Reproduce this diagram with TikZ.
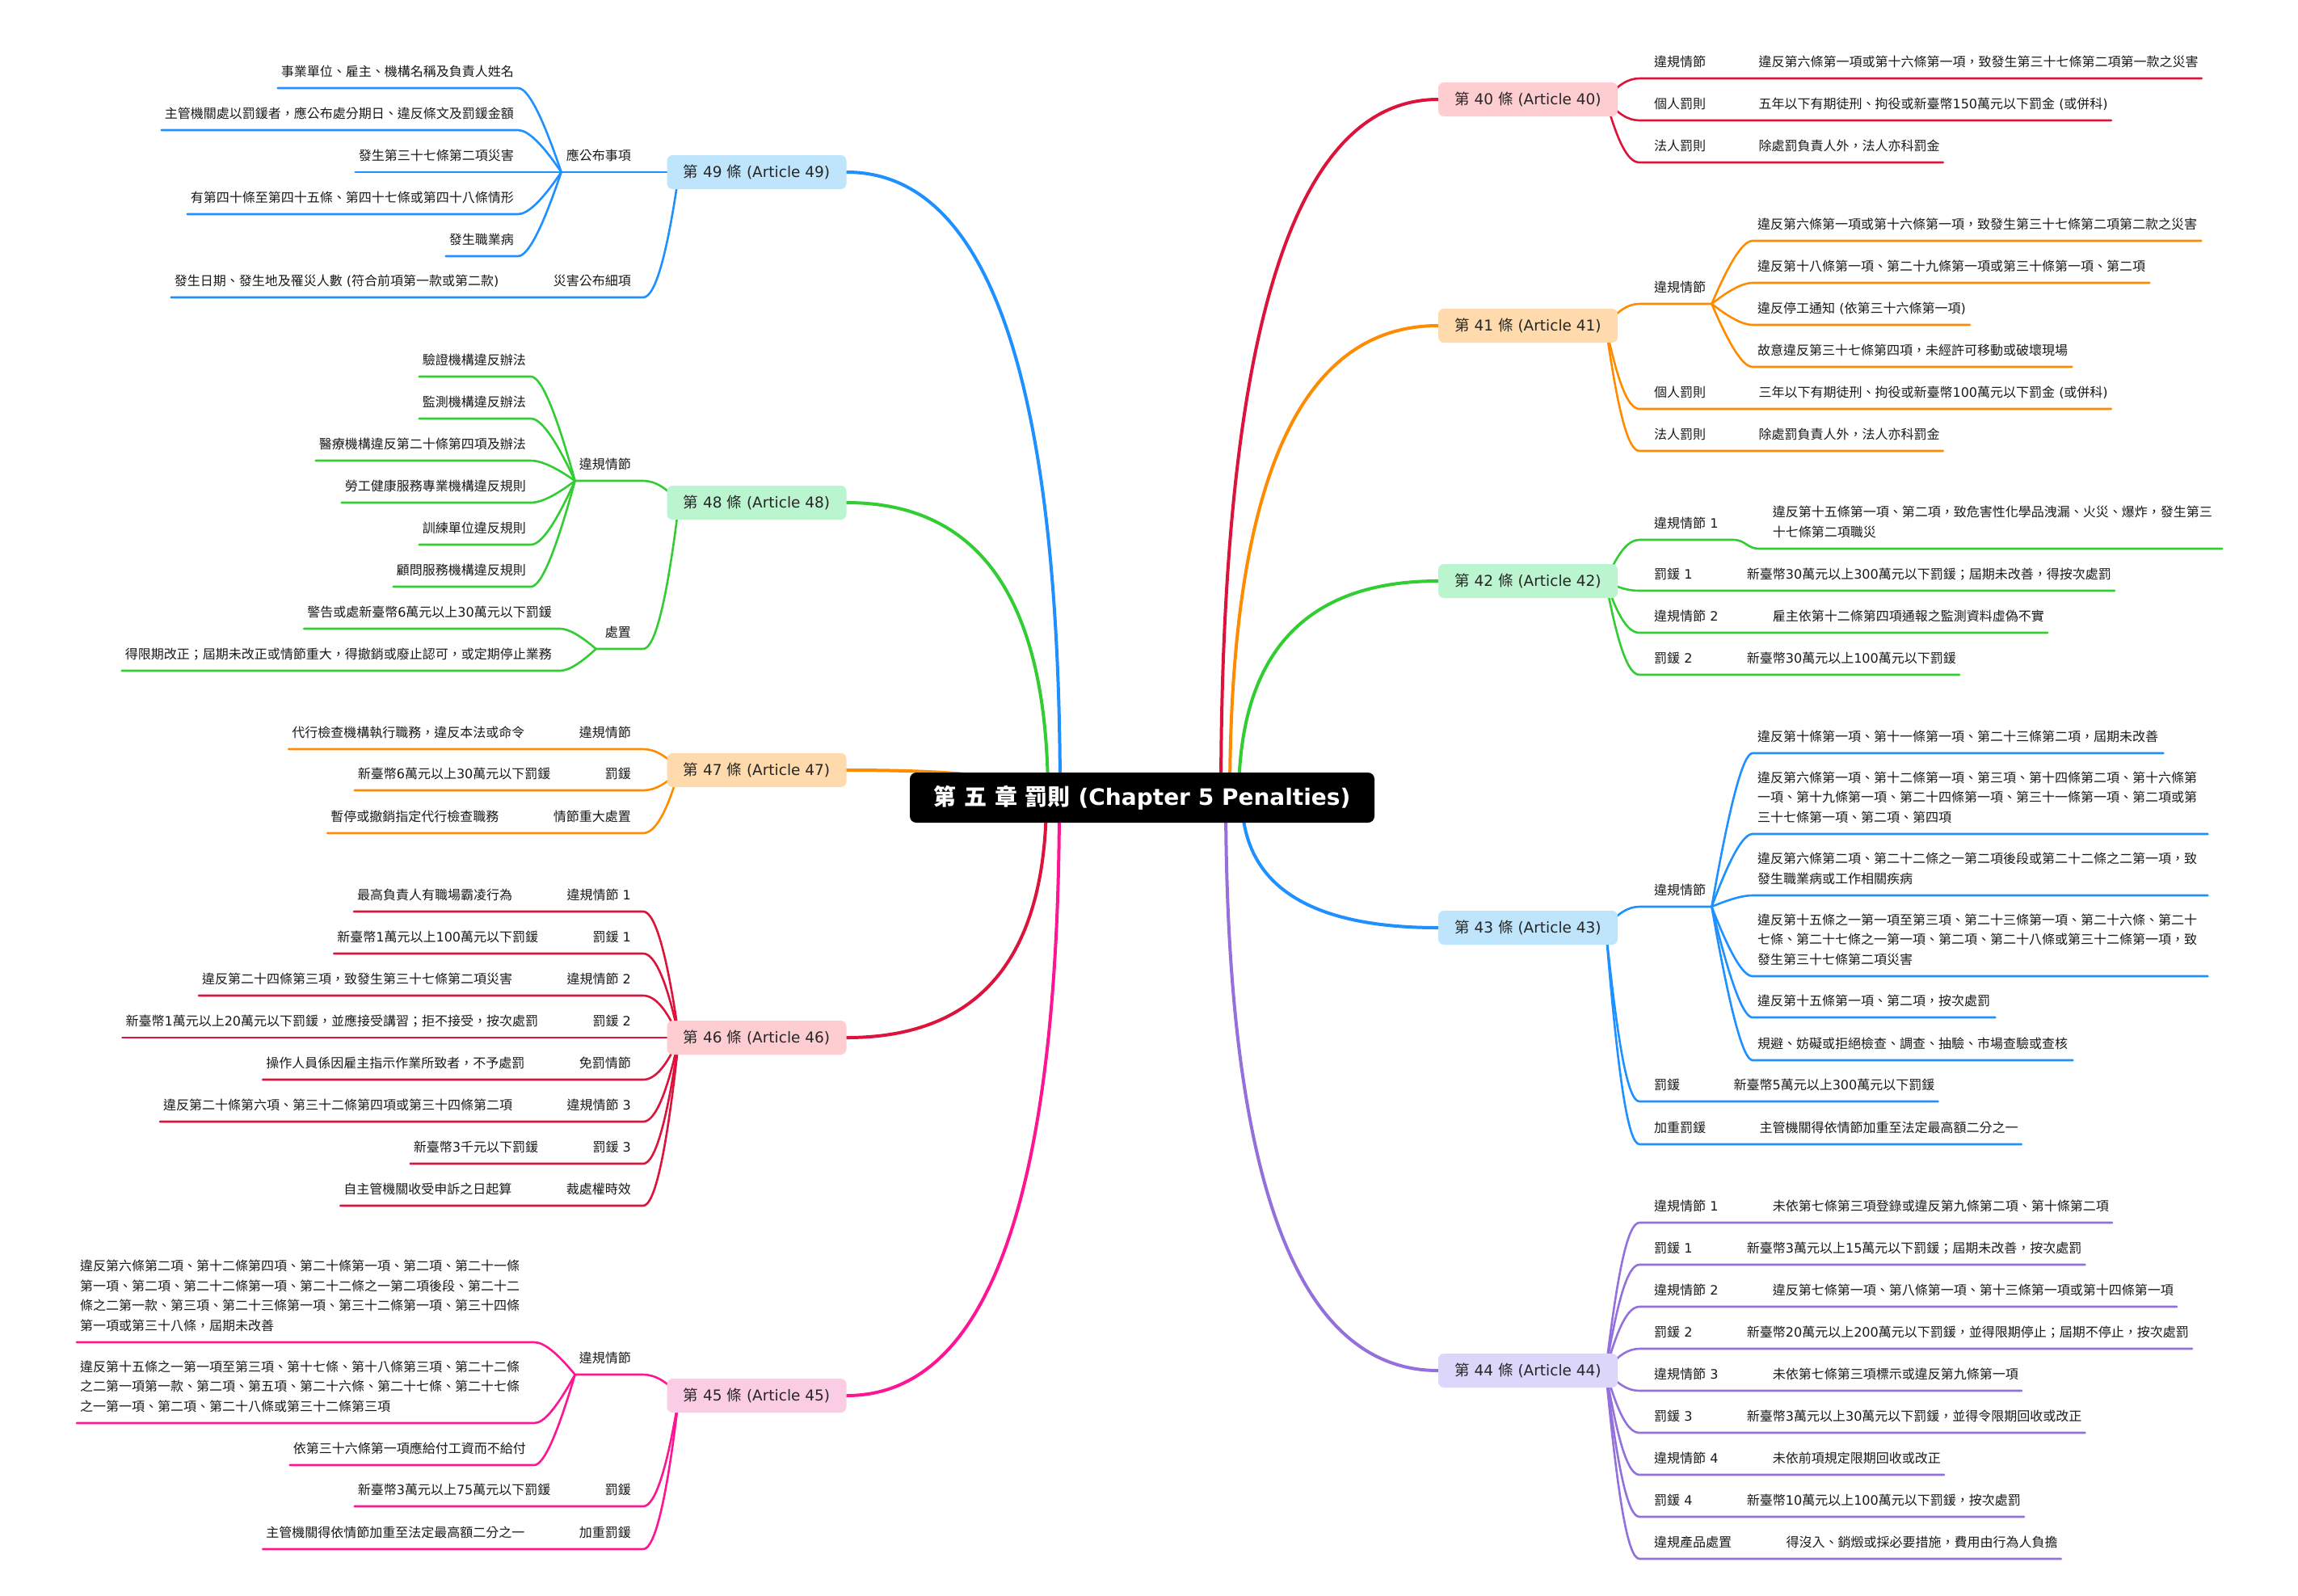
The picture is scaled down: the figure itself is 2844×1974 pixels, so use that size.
\documentclass[tikz,border=0pt]{standalone}
\usepackage{fontspec}
\setmainfont{DejaVu Sans}
\newfontfamily\cjkfont{Noto Sans CJK TC}
\usetikzlibrary{calc}
% automatic switch to the CJK font for CJK characters
\XeTeXinterchartokenstate=1
\chardef\cjkcls=10
\newcount\cjkn
\cjkn="2E80
\loop \XeTeXcharclass\cjkn=\cjkcls \ifnum\cjkn<"9FFF \advance\cjkn by 1 \repeat
\cjkn="FF00
\loop \XeTeXcharclass\cjkn=\cjkcls \ifnum\cjkn<"FFEF \advance\cjkn by 1 \repeat
\XeTeXinterchartoks 0 \cjkcls = {\cjkfont}
\XeTeXinterchartoks 4095 \cjkcls = {\cjkfont}
\XeTeXinterchartoks \cjkcls 0 = {\rmfamily}
\XeTeXinterchartoks \cjkcls 4095 = {\rmfamily}

\definecolor{cBlue}{RGB}{30,144,255}
\definecolor{cGreen}{RGB}{50,205,50}
\definecolor{cOrange}{RGB}{255,140,0}
\definecolor{cCrimson}{RGB}{220,20,60}
\definecolor{cPink}{RGB}{255,20,147}
\definecolor{cPurple}{RGB}{147,112,219}
\definecolor{fBlue}{RGB}{190,229,251}
\definecolor{fGreen}{RGB}{186,245,207}
\definecolor{fOrange}{RGB}{254,218,172}
\definecolor{fCrimson}{RGB}{254,205,209}
\definecolor{fPink}{RGB}{251,205,229}
\definecolor{fPurple}{RGB}{221,214,251}

\pgfdeclarelayer{bg}
\pgfsetlayers{bg,main}

\tikzset{
  ln/.style={line width=2.6pt, line join=round, line cap=round},
  mainln/.style={line width=4pt, line cap=round},
  rootbox/.style={fill=black, text=white, rounded corners=8pt, minimum width=575pt,
    minimum height=62pt, inner sep=0pt, font=\bfseries\fontsize{28}{32}\selectfont},
  lvlbox/.style={rounded corners=7pt, minimum width=222pt, minimum height=42pt,
    inner sep=0pt, text=black!85, font=\fontsize{18.5}{22}\selectfont},
  txt/.style={inner sep=0pt, text=black!90, font=\fontsize{16}{19}\selectfont},
  tl/.style={txt, anchor=base east},
  tr/.style={txt, anchor=base west}
}

\newcommand\blk[1]{\vbox{\baselineskip=24.5pt\lineskiplimit=-30pt\lineskip=0pt #1}}
\newcommand\mainC[5]{\draw[#1] ($(root.center)+(#2,0)$) .. controls +(0,{2/3*(#4)}) and +({2/3*(#5)},0) .. (#3);}
\newcommand\lvlL[5]{\draw[#1] ($(#2.west)+(15,0)$) .. controls +(-14.67,{2/3*(#4)}) and +(14.67,0) .. ($(#3.base east)+(15,15)$) #5;}
\newcommand\lvlR[5]{\draw[#1] ($(#2.east)+(-15,0)$) .. controls +(14.67,{2/3*(#4)}) and +(-14.67,0) .. ($(#3.base west)+(-18,15)$) #5;}
\newcommand\forkL[6]{\draw[#1] (#2) .. controls +({-0.4333*(#4)},{2/3*(#3)}) and +({0.2333*(#4)},0) .. ($(#5.base east)+(#6,15)$) -- ($(#5.base west)+(-4,15)$);}
\newcommand\forkR[6]{\draw[#1] (#2) .. controls +({0.4333*(#4)},{2/3*(#3)}) and +({-0.2333*(#4)},0) .. ($(#5.base west)+(-6,15)$) -- ($(#5.base east)+(#6,15)$);}

\begin{document}
\begin{tikzpicture}[x=1pt,y=-1pt]
\useasboundingbox (0,0) rectangle (2844,1974);

% ---------- root and main topics
\node[rootbox] (root) at (1413.5,987) {第 五 章 罰則 (Chapter 5 Penalties)};
\node[lvlbox, fill=fBlue]    (n49) at (936.5,213)  {第 49 條 (Article 49)};
\node[lvlbox, fill=fGreen]   (n48) at (936.5,622)  {第 48 條 (Article 48)};
\node[lvlbox, fill=fOrange]  (n47) at (936.5,953)  {第 47 條 (Article 47)};
\node[lvlbox, fill=fCrimson] (n46) at (936.5,1284) {第 46 條 (Article 46)};
\node[lvlbox, fill=fPink]    (n45) at (936.5,1727) {第 45 條 (Article 45)};
\node[lvlbox, fill=fCrimson] (n40) at (1891,123)  {第 40 條 (Article 40)};
\node[lvlbox, fill=fOrange]  (n41) at (1891,403)  {第 41 條 (Article 41)};
\node[lvlbox, fill=fGreen]   (n42) at (1891,719)  {第 42 條 (Article 42)};
\node[lvlbox, fill=fBlue]    (n43) at (1891,1148) {第 43 條 (Article 43)};
\node[lvlbox, fill=fPurple]  (n44) at (1891,1696) {第 44 條 (Article 44)};

% ---------- Article 49
\node[tl] (L49a) at (781,198) {應公布事項};
\node[tl] (L49b) at (781,353) {災害公布細項};
\coordinate (F49) at ($(L49a.base west)+(-6,15)$);
\node[tl] (C49a) at (636,94)  {事業單位、雇主、機構名稱及負責人姓名};
\node[tl] (C49b) at (636,146) {主管機關處以罰鍰者，應公布處分期日、違反條文及罰鍰金額};
\node[tl] (C49c) at (636,198) {發生第三十七條第二項災害};
\node[tl] (C49d) at (636,250) {有第四十條至第四十五條、第四十七條或第四十八條情形};
\node[tl] (C49e) at (636,302) {發生職業病};
\node[tl] (C49f) at ($(L49b.base west)+(-67,0)$) {發生日期、發生地及罹災人數 (符合前項第一款或第二款)};

% ---------- Article 48
\node[tl] (L48a) at (781,580) {違規情節};
\node[tl] (L48b) at (781,788) {處置};
\coordinate (F48a) at ($(L48a.base west)+(-5,15)$);
\coordinate (F48b) at ($(L48b.base west)+(-11,15)$);
\node[tl] (C48a) at (651,451) {驗證機構違反辦法};
\node[tl] (C48b) at (651,503) {監測機構違反辦法};
\node[tl] (C48c) at (651,555) {醫療機構違反第二十條第四項及辦法};
\node[tl] (C48d) at (651,607) {勞工健康服務專業機構違反規則};
\node[tl] (C48e) at (651,659) {訓練單位違反規則};
\node[tl] (C48f) at (651,711) {顧問服務機構違反規則};
\node[tl] (C48g) at (683,763) {警告或處新臺幣6萬元以上30萬元以下罰鍰};
\node[tl] (C48h) at (683,815) {得限期改正；屆期未改正或情節重大，得撤銷或廢止認可，或定期停止業務};

% ---------- Article 47
\node[tl] (L47a) at (781,912)  {違規情節};
\node[tl] (L47b) at (781,963)  {罰鍰};
\node[tl] (L47c) at (781,1016) {情節重大處置};
\node[tl] (C47a) at ($(L47a.base west)+(-67,0)$) {代行檢查機構執行職務，違反本法或命令};
\node[tl] (C47b) at ($(L47b.base west)+(-67,0)$) {新臺幣6萬元以上30萬元以下罰鍰};
\node[tl] (C47c) at ($(L47c.base west)+(-67,0)$) {暫停或撤銷指定代行檢查職務};

% ---------- Article 46
\node[tl] (L46a) at (781,1113) {違規情節 1};
\node[tl] (L46b) at (781,1165) {罰鍰 1};
\node[tl] (L46c) at (781,1217) {違規情節 2};
\node[tl] (L46d) at (781,1269) {罰鍰 2};
\node[tl] (L46e) at (781,1321) {免罰情節};
\node[tl] (L46f) at (781,1373) {違規情節 3};
\node[tl] (L46g) at (781,1425) {罰鍰 3};
\node[tl] (L46h) at (781,1477) {裁處權時效};
\node[tl] (C46a) at ($(L46a.base west)+(-67,0)$) {最高負責人有職場霸凌行為};
\node[tl] (C46b) at ($(L46b.base west)+(-67,0)$) {新臺幣1萬元以上100萬元以下罰鍰};
\node[tl] (C46c) at ($(L46c.base west)+(-67,0)$) {違反第二十四條第三項，致發生第三十七條第二項災害};
\node[tl] (C46d) at ($(L46d.base west)+(-67,0)$) {新臺幣1萬元以上20萬元以下罰鍰，並應接受講習；拒不接受，按次處罰};
\node[tl] (C46e) at ($(L46e.base west)+(-67,0)$) {操作人員係因雇主指示作業所致者，不予處罰};
\node[tl] (C46f) at ($(L46f.base west)+(-67,0)$) {違反第二十條第六項、第三十二條第四項或第三十四條第二項};
\node[tl] (C46g) at ($(L46g.base west)+(-67,0)$) {新臺幣3千元以下罰鍰};
\node[tl] (C46h) at ($(L46h.base west)+(-67,0)$) {自主管機關收受申訴之日起算};

% ---------- Article 45
\node[tl] (L45a) at (781,1686) {違規情節};
\node[tl] (L45b) at (781,1849) {罰鍰};
\node[tl] (L45c) at (781,1902) {加重罰鍰};
\coordinate (F45a) at ($(L45a.base west)+(-5,15)$);
\node[tr] (B45a) at (99,1646) {\blk{\hbox{違反第六條第二項、第十二條第四項、第二十條第一項、第二項、第二十一條}\hbox{第一項、第二項、第二十二條第一項、第二十二條之一第二項後段、第二十二}\hbox{條之二第一款、第三項、第二十三條第一項、第三十二條第一項、第三十四條}\hbox{第一項或第三十八條，屆期未改善}}};
\node[tr] (B45b) at (99,1746) {\blk{\hbox{違反第十五條之一第一項至第三項、第十七條、第十八條第三項、第二十二條}\hbox{之二第一項第一款、第二項、第五項、第二十六條、第二十七條、第二十七條}\hbox{之一第一項、第二項、第二十八條或第三十二條第三項}}};
\node[tl] (C45c) at (651,1798) {依第三十六條第一項應給付工資而不給付};
\node[tl] (C45d) at ($(L45b.base west)+(-67,0)$) {新臺幣3萬元以上75萬元以下罰鍰};
\node[tl] (C45e) at ($(L45c.base west)+(-67,0)$) {主管機關得依情節加重至法定最高額二分之一};

% ---------- Article 40
\node[tr] (L40a) at (2047,82)  {違規情節};
\node[tr] (L40b) at (2047,134) {個人罰則};
\node[tr] (L40c) at (2047,186) {法人罰則};
\node[tr] (C40a) at ($(L40a.base east)+(65,0)$) {違反第六條第一項或第十六條第一項，致發生第三十七條第二項第一款之災害};
\node[tr] (C40b) at ($(L40b.base east)+(65,0)$) {五年以下有期徒刑、拘役或新臺幣150萬元以下罰金 (或併科)};
\node[tr] (C40c) at ($(L40c.base east)+(65,0)$) {除處罰負責人外，法人亦科罰金};

% ---------- Article 41
\node[tr] (L41a) at (2047,361) {違規情節};
\node[tr] (L41b) at (2047,491) {個人罰則};
\node[tr] (L41c) at (2047,543) {法人罰則};
\coordinate (F41) at ($(L41a.base east)+(7,15)$);
\node[tr] (C41a) at (2175,283) {違反第六條第一項或第十六條第一項，致發生第三十七條第二項第二款之災害};
\node[tr] (C41b) at (2175,335) {違反第十八條第一項、第二十九條第一項或第三十條第一項、第二項};
\node[tr] (C41c) at (2175,387) {違反停工通知 (依第三十六條第一項)};
\node[tr] (C41d) at (2175,439) {故意違反第三十七條第四項，未經許可移動或破壞現場};
\node[tr] (C41e) at ($(L41b.base east)+(65,0)$) {三年以下有期徒刑、拘役或新臺幣100萬元以下罰金 (或併科)};
\node[tr] (C41f) at ($(L41c.base east)+(65,0)$) {除處罰負責人外，法人亦科罰金};

% ---------- Article 42
\node[tr] (L42a) at (2047,653) {違規情節 1};
\node[tr] (L42b) at (2047,716) {罰鍰 1};
\node[tr] (L42c) at (2047,768) {違規情節 2};
\node[tr] (L42d) at (2047,820) {罰鍰 2};
\node[tr] (B42a) at ($(L42a.base east)+(67,11)$) {\blk{\hbox{違反第十五條第一項、第二項，致危害性化學品洩漏、火災、爆炸，發生第三}\hbox{十七條第二項職災}}};
\node[tr] (C42b) at ($(L42b.base east)+(67,0)$) {新臺幣30萬元以上300萬元以下罰鍰；屆期未改善，得按次處罰};
\node[tr] (C42c) at ($(L42c.base east)+(67,0)$) {雇主依第十二條第四項通報之監測資料虛偽不實};
\node[tr] (C42d) at ($(L42d.base east)+(67,0)$) {新臺幣30萬元以上100萬元以下罰鍰};

% ---------- Article 43
\node[tr] (L43a) at (2047,1107) {違規情節};
\node[tr] (L43b) at (2047,1348) {罰鍰};
\node[tr] (L43c) at (2047,1401) {加重罰鍰};
\coordinate (F43) at ($(L43a.base east)+(7,15)$);
\node[tr] (C43a) at (2175,917) {違反第十條第一項、第十一條第一項、第二十三條第二項，屆期未改善};
\node[tr] (B43b) at (2175,1017) {\blk{\hbox{違反第六條第一項、第十二條第一項、第三項、第十四條第二項、第十六條第}\hbox{一項、第十九條第一項、第二十四條第一項、第三十一條第一項、第二項或第}\hbox{三十七條第一項、第二項、第四項}}};
\node[tr] (B43c) at (2175,1093) {\blk{\hbox{違反第六條第二項、第二十二條之一第二項後段或第二十二條之二第一項，致}\hbox{發生職業病或工作相關疾病}}};
\node[tr] (B43d) at (2175,1193) {\blk{\hbox{違反第十五條之一第一項至第三項、第二十三條第一項、第二十六條、第二十}\hbox{七條、第二十七條之一第一項、第二項、第二十八條或第三十二條第一項，致}\hbox{發生第三十七條第二項災害}}};
\node[tr] (C43e) at (2175,1244) {違反第十五條第一項、第二項，按次處罰};
\node[tr] (C43f) at (2175,1297) {規避、妨礙或拒絕檢查、調查、抽驗、市場查驗或查核};
\node[tr] (C43g) at ($(L43b.base east)+(66,0)$) {新臺幣5萬元以上300萬元以下罰鍰};
\node[tr] (C43h) at ($(L43c.base east)+(66,0)$) {主管機關得依情節加重至法定最高額二分之一};

% ---------- Article 44
\node[tr] (L44a) at (2047,1498) {違規情節 1};
\node[tr] (L44b) at (2047,1550) {罰鍰 1};
\node[tr] (L44c) at (2047,1602) {違規情節 2};
\node[tr] (L44d) at (2047,1654) {罰鍰 2};
\node[tr] (L44e) at (2047,1706) {違規情節 3};
\node[tr] (L44f) at (2047,1758) {罰鍰 3};
\node[tr] (L44g) at (2047,1810) {違規情節 4};
\node[tr] (L44h) at (2047,1862) {罰鍰 4};
\node[tr] (L44i) at (2047,1914) {違規產品處置};
\node[tr] (C44a) at ($(L44a.base east)+(67,0)$) {未依第七條第三項登錄或違反第九條第二項、第十條第二項};
\node[tr] (C44b) at ($(L44b.base east)+(67,0)$) {新臺幣3萬元以上15萬元以下罰鍰；屆期未改善，按次處罰};
\node[tr] (C44c) at ($(L44c.base east)+(67,0)$) {違反第七條第一項、第八條第一項、第十三條第一項或第十四條第一項};
\node[tr] (C44d) at ($(L44d.base east)+(67,0)$) {新臺幣20萬元以上200萬元以下罰鍰，並得限期停止；屆期不停止，按次處罰};
\node[tr] (C44e) at ($(L44e.base east)+(67,0)$) {未依第七條第三項標示或違反第九條第一項};
\node[tr] (C44f) at ($(L44f.base east)+(67,0)$) {新臺幣3萬元以上30萬元以下罰鍰，並得令限期回收或改正};
\node[tr] (C44g) at ($(L44g.base east)+(67,0)$) {未依前項規定限期回收或改正};
\node[tr] (C44h) at ($(L44h.base east)+(67,0)$) {新臺幣10萬元以上100萬元以下罰鍰，按次處罰};
\node[tr] (C44i) at ($(L44i.base east)+(67,0)$) {得沒入、銷燬或採必要措施，費用由行為人負擔};

% ================= connectors (behind the nodes)
\begin{pgfonlayer}{bg}
\fill[white] (0,0) rectangle (2844,1974);
% main branches
\mainC{mainln,cBlue}{-101.5}{n49.east}{-774}{264}
\mainC{mainln,cGreen}{-116.5}{n48.east}{-365}{249}
\mainC{mainln,cOrange}{-128.5}{n47.east}{-34}{237}
\mainC{mainln,cCrimson}{-118.5}{n46.east}{297}{247}
\mainC{mainln,cPink}{-102.5}{n45.east}{740}{263}
\mainC{mainln,cCrimson}{97.5}{n40.west}{-864}{-269}
\mainC{mainln,cOrange}{108.5}{n41.west}{-584}{-258}
\mainC{mainln,cGreen}{119.5}{n42.west}{-268}{-247}
\mainC{mainln,cBlue}{123.5}{n43.west}{161}{-243}
\mainC{mainln,cPurple}{103.5}{n44.west}{709}{-263}

% 49
\lvlL{ln,cBlue}{n49}{L49a}{0}{-- (F49)}
\lvlL{ln,cBlue}{n49}{L49b}{155}{-- ($(C49f.base west)+(-4,15)$)}
\forkL{ln,cBlue}{F49}{-104}{54}{C49a}{5}
\forkL{ln,cBlue}{F49}{-52}{54}{C49b}{5}
\forkL{ln,cBlue}{F49}{0}{54}{C49c}{5}
\forkL{ln,cBlue}{F49}{52}{54}{C49d}{5}
\forkL{ln,cBlue}{F49}{104}{54}{C49e}{5}
% 48
\lvlL{ln,cGreen}{n48}{L48a}{-27}{-- (F48a)}
\lvlL{ln,cGreen}{n48}{L48b}{181}{-- (F48b)}
\forkL{ln,cGreen}{F48a}{-129}{55}{C48a}{6}
\forkL{ln,cGreen}{F48a}{-77}{55}{C48b}{6}
\forkL{ln,cGreen}{F48a}{-25}{55}{C48c}{6}
\forkL{ln,cGreen}{F48a}{27}{55}{C48d}{6}
\forkL{ln,cGreen}{F48a}{79}{55}{C48e}{6}
\forkL{ln,cGreen}{F48a}{131}{55}{C48f}{6}
\forkL{ln,cGreen}{F48b}{-25}{45}{C48g}{10}
\forkL{ln,cGreen}{F48b}{27}{45}{C48h}{10}
% 47
\lvlL{ln,cOrange}{n47}{L47a}{-26}{-- ($(C47a.base west)+(-4,15)$)}
\lvlL{ln,cOrange}{n47}{L47b}{25}{-- ($(C47b.base west)+(-4,15)$)}
\lvlL{ln,cOrange}{n47}{L47c}{78}{-- ($(C47c.base west)+(-4,15)$)}
% 46
\lvlL{ln,cCrimson}{n46}{L46a}{-156}{-- ($(C46a.base west)+(-4,15)$)}
\lvlL{ln,cCrimson}{n46}{L46b}{-104}{-- ($(C46b.base west)+(-4,15)$)}
\lvlL{ln,cCrimson}{n46}{L46c}{-52}{-- ($(C46c.base west)+(-4,15)$)}
\lvlL{ln,cCrimson}{n46}{L46d}{0}{-- ($(C46d.base west)+(-4,15)$)}
\lvlL{ln,cCrimson}{n46}{L46e}{52}{-- ($(C46e.base west)+(-4,15)$)}
\lvlL{ln,cCrimson}{n46}{L46f}{104}{-- ($(C46f.base west)+(-4,15)$)}
\lvlL{ln,cCrimson}{n46}{L46g}{156}{-- ($(C46g.base west)+(-4,15)$)}
\lvlL{ln,cCrimson}{n46}{L46h}{208}{-- ($(C46h.base west)+(-4,15)$)}
% 45
\lvlL{ln,cPink}{n45}{L45a}{-26}{-- (F45a)}
\forkL{ln,cPink}{F45a}{-40}{51}{B45a}{18}
\forkL{ln,cPink}{F45a}{60}{51}{B45b}{18}
\forkL{ln,cPink}{F45a}{112}{51}{C45c}{10}
\lvlL{ln,cPink}{n45}{L45b}{137}{-- ($(C45d.base west)+(-4,15)$)}
\lvlL{ln,cPink}{n45}{L45c}{190}{-- ($(C45e.base west)+(-4,15)$)}
% 40
\lvlR{ln,cCrimson}{n40}{L40a}{-26}{-- ($(C40a.base east)+(4,15)$)}
\lvlR{ln,cCrimson}{n40}{L40b}{26}{-- ($(C40b.base east)+(4,15)$)}
\lvlR{ln,cCrimson}{n40}{L40c}{78}{-- ($(C40c.base east)+(4,15)$)}
% 41
\lvlR{ln,cOrange}{n41}{L41a}{-27}{-- (F41)}
\forkR{ln,cOrange}{F41}{-78}{51}{C41a}{5}
\forkR{ln,cOrange}{F41}{-26}{51}{C41b}{5}
\forkR{ln,cOrange}{F41}{26}{51}{C41c}{5}
\forkR{ln,cOrange}{F41}{78}{51}{C41d}{5}
\lvlR{ln,cOrange}{n41}{L41b}{103}{-- ($(C41e.base east)+(4,15)$)}
\lvlR{ln,cOrange}{n41}{L41c}{155}{-- ($(C41f.base east)+(4,15)$)}
% 42
\lvlR{ln,cGreen}{n42}{L42a}{-51}{-- ($(L42a.base east)+(18,15)$) .. controls +(16,0) and +(-16,0) .. ($(B42a.base west)+(-16,15)$) -- ($(B42a.base east)+(12,15)$)}
\lvlR{ln,cGreen}{n42}{L42b}{12}{-- ($(C42b.base east)+(4,15)$)}
\lvlR{ln,cGreen}{n42}{L42c}{64}{-- ($(C42c.base east)+(4,15)$)}
\lvlR{ln,cGreen}{n42}{L42d}{116}{-- ($(C42d.base east)+(4,15)$)}
% 43
\lvlR{ln,cBlue}{n43}{L43a}{-26}{-- (F43)}
\forkR{ln,cBlue}{F43}{-190}{51}{C43a}{6}
\forkR{ln,cBlue}{F43}{-90}{51}{B43b}{13}
\forkR{ln,cBlue}{F43}{-14}{51}{B43c}{13}
\forkR{ln,cBlue}{F43}{86}{51}{B43d}{13}
\forkR{ln,cBlue}{F43}{137}{51}{C43e}{6}
\forkR{ln,cBlue}{F43}{190}{51}{C43f}{6}
\lvlR{ln,cBlue}{n43}{L43b}{215}{-- ($(C43g.base east)+(4,15)$)}
\lvlR{ln,cBlue}{n43}{L43c}{268}{-- ($(C43h.base east)+(4,15)$)}
% 44
\lvlR{ln,cPurple}{n44}{L44a}{-183}{-- ($(C44a.base east)+(4,15)$)}
\lvlR{ln,cPurple}{n44}{L44b}{-131}{-- ($(C44b.base east)+(4,15)$)}
\lvlR{ln,cPurple}{n44}{L44c}{-79}{-- ($(C44c.base east)+(4,15)$)}
\lvlR{ln,cPurple}{n44}{L44d}{-27}{-- ($(C44d.base east)+(4,15)$)}
\lvlR{ln,cPurple}{n44}{L44e}{25}{-- ($(C44e.base east)+(4,15)$)}
\lvlR{ln,cPurple}{n44}{L44f}{77}{-- ($(C44f.base east)+(4,15)$)}
\lvlR{ln,cPurple}{n44}{L44g}{129}{-- ($(C44g.base east)+(4,15)$)}
\lvlR{ln,cPurple}{n44}{L44h}{181}{-- ($(C44h.base east)+(4,15)$)}
\lvlR{ln,cPurple}{n44}{L44i}{233}{-- ($(C44i.base east)+(4,15)$)}
\end{pgfonlayer}
\end{tikzpicture}
\end{document}
